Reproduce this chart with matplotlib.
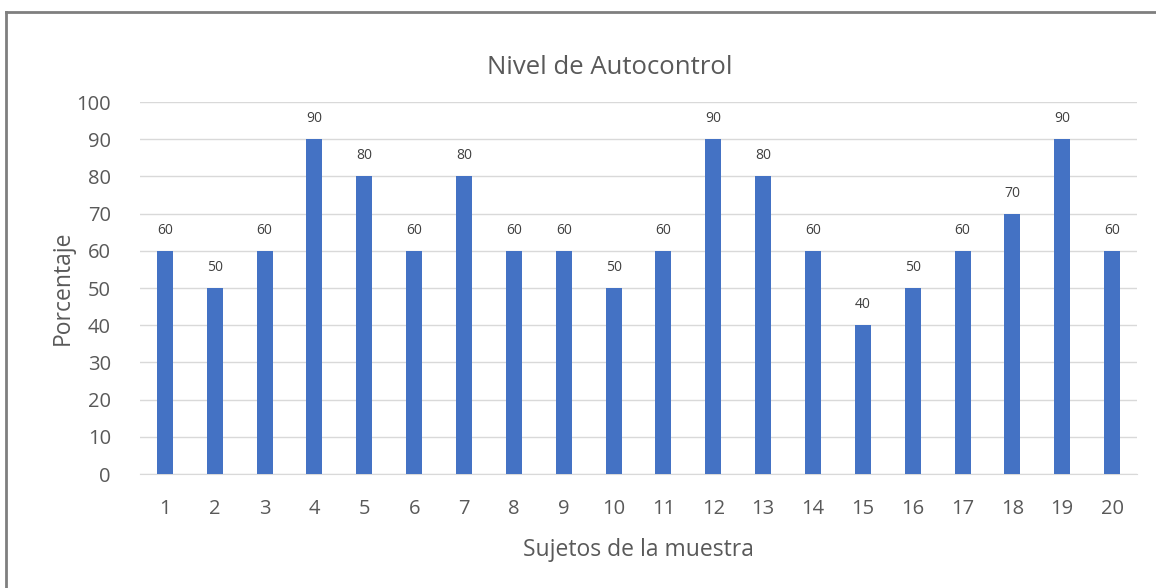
import matplotlib
matplotlib.use("Agg")
import matplotlib.pyplot as plt
from matplotlib.lines import Line2D

sujetos = [str(i) for i in range(1, 21)]
porcentaje = [60, 50, 60, 90, 80, 60, 80, 60, 60, 50, 60, 90, 80, 60, 40, 50, 60, 70, 90, 60]

plt.rcParams["font.family"] = ["Open Sans", "DejaVu Sans"]
text_color = "#595959"

fig = plt.figure(figsize=(11.56, 5.88), dpi=100)
ax = fig.add_axes([140 / 1156, 1 - 474 / 588, 997 / 1156, 372 / 588])

x = range(len(sujetos))
ax.bar(x, porcentaje, width=0.32, color="#4472C4", zorder=3)
for xi, v in zip(x, porcentaje):
    ax.text(xi, v + 3.5, str(v), ha="center", va="bottom", fontsize=10, color="#404040")

ax.set_xlim(-0.5, len(sujetos) - 0.5)
ax.set_ylim(0, 100)
ax.set_yticks(range(0, 101, 10))
ax.set_xticks(list(x))
ax.set_xticklabels(sujetos)
ax.yaxis.grid(True, color="#D9D9D9", linewidth=1, zorder=0)
for s in ["top", "right", "left"]:
    ax.spines[s].set_visible(False)
ax.spines["bottom"].set_color("#D9D9D9")
ax.tick_params(axis="both", length=0, labelsize=14.5, colors=text_color)
ax.tick_params(axis="y", pad=21)
ax.tick_params(axis="x", pad=18)

fig.text(610 / 1156, 1 - 68 / 588, "Nivel de Autocontrol", fontsize=18.5, color=text_color,
         ha="center", va="center")
ax.set_xlabel("Sujetos de la muestra", fontsize=16.5, color=text_color, labelpad=14)
ax.set_ylabel("Porcentaje", fontsize=16.5, color=text_color, labelpad=1)

# outer chart border (top and left edges visible in the screenshot)
fig.add_artist(Line2D([6 / 1156, 1], [1 - 12 / 588, 1 - 12 / 588], color="#7F7F7F", linewidth=2,
                      transform=fig.transFigure))
fig.add_artist(Line2D([6 / 1156, 6 / 1156], [0, 1 - 12 / 588], color="#7F7F7F", linewidth=2,
                      transform=fig.transFigure))

fig.savefig("out.png", dpi=100)
